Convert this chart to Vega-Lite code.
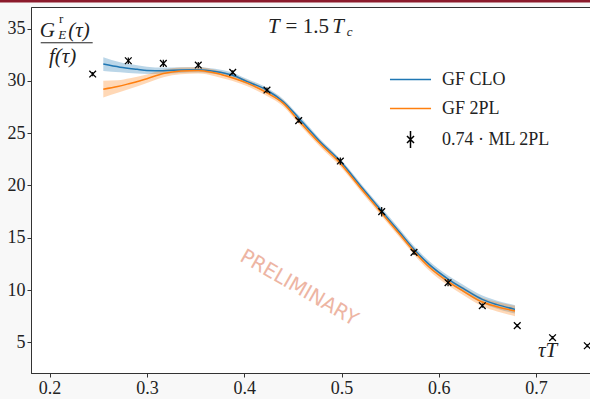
{
  "$schema": "https://vega.github.io/schema/vega-lite/v6.json",
  "width": 560,
  "height": 366,
  "autosize": {"type": "none"},
  "padding": {"left": 31, "top": 7, "right": 0, "bottom": 26},
  "background": "#f8f8f8",
  "view": {"fill": "white", "stroke": "#333", "strokeWidth": 1},
  "config": {
    "axis": {
      "grid": false,
      "labelFont": "Liberation Serif",
      "labelFontSize": 18,
      "labelColor": "#222",
      "tickColor": "#333",
      "domainColor": "#333",
      "tickSize": 4,
      "title": null
    },
    "legend": {
      "labelFont": "Liberation Serif",
      "labelFontSize": 18,
      "labelColor": "#222"
    }
  },
  "datasets": {
    "curves": [
      {"series": "GF CLO", "x": 0.2552, "y": 31.6, "lo": 30.95, "hi": 32.25},
      {"series": "GF CLO", "x": 0.2724, "y": 31.3, "lo": 30.82, "hi": 31.78},
      {"series": "GF CLO", "x": 0.29, "y": 31.1, "lo": 30.7, "hi": 31.5},
      {"series": "GF CLO", "x": 0.30, "y": 31.0, "lo": 30.65, "hi": 31.35},
      {"series": "GF CLO", "x": 0.3169, "y": 30.97, "lo": 30.67, "hi": 31.27},
      {"series": "GF CLO", "x": 0.334, "y": 31.03, "lo": 30.76, "hi": 31.3},
      {"series": "GF CLO", "x": 0.3528, "y": 31.05, "lo": 30.8, "hi": 31.3},
      {"series": "GF CLO", "x": 0.37, "y": 30.9, "lo": 30.65, "hi": 31.15},
      {"series": "GF CLO", "x": 0.3875, "y": 30.55, "lo": 30.3, "hi": 30.8},
      {"series": "GF CLO", "x": 0.4026, "y": 29.95, "lo": 29.7, "hi": 30.2},
      {"series": "GF CLO", "x": 0.4234, "y": 29.1, "lo": 28.85, "hi": 29.35},
      {"series": "GF CLO", "x": 0.4402, "y": 28.0, "lo": 27.75, "hi": 28.25},
      {"series": "GF CLO", "x": 0.456, "y": 26.45, "lo": 26.2, "hi": 26.7},
      {"series": "GF CLO", "x": 0.4779, "y": 24.2, "lo": 23.95, "hi": 24.45},
      {"series": "GF CLO", "x": 0.4988, "y": 22.3, "lo": 22.05, "hi": 22.55},
      {"series": "GF CLO", "x": 0.52, "y": 19.9, "lo": 19.63, "hi": 20.17},
      {"series": "GF CLO", "x": 0.5413, "y": 17.55, "lo": 17.27, "hi": 17.83},
      {"series": "GF CLO", "x": 0.56, "y": 15.5, "lo": 15.2, "hi": 15.8},
      {"series": "GF CLO", "x": 0.5745, "y": 13.9, "lo": 13.6, "hi": 14.2},
      {"series": "GF CLO", "x": 0.59, "y": 12.45, "lo": 12.13, "hi": 12.77},
      {"series": "GF CLO", "x": 0.6095, "y": 11.05, "lo": 10.72, "hi": 11.38},
      {"series": "GF CLO", "x": 0.625, "y": 10.15, "lo": 9.8, "hi": 10.5},
      {"series": "GF CLO", "x": 0.6447, "y": 9.1, "lo": 8.73, "hi": 9.47},
      {"series": "GF CLO", "x": 0.66, "y": 8.6, "lo": 8.22, "hi": 8.98},
      {"series": "GF CLO", "x": 0.6783, "y": 8.15, "lo": 7.75, "hi": 8.55},
      {"series": "GF 2PL", "x": 0.2552, "y": 29.2, "lo": 28.4, "hi": 30.0},
      {"series": "GF 2PL", "x": 0.27, "y": 29.45, "lo": 28.85, "hi": 30.05},
      {"series": "GF 2PL", "x": 0.2826, "y": 29.75, "lo": 29.25, "hi": 30.25},
      {"series": "GF 2PL", "x": 0.30, "y": 30.2, "lo": 29.8, "hi": 30.6},
      {"series": "GF 2PL", "x": 0.3169, "y": 30.7, "lo": 30.35, "hi": 31.05},
      {"series": "GF 2PL", "x": 0.335, "y": 30.95, "lo": 30.63, "hi": 31.27},
      {"series": "GF 2PL", "x": 0.3528, "y": 31.0, "lo": 30.7, "hi": 31.3},
      {"series": "GF 2PL", "x": 0.37, "y": 30.75, "lo": 30.45, "hi": 31.05},
      {"series": "GF 2PL", "x": 0.3875, "y": 30.3, "lo": 30.0, "hi": 30.6},
      {"series": "GF 2PL", "x": 0.4026, "y": 29.8, "lo": 29.5, "hi": 30.1},
      {"series": "GF 2PL", "x": 0.4234, "y": 28.85, "lo": 28.55, "hi": 29.15},
      {"series": "GF 2PL", "x": 0.4402, "y": 27.85, "lo": 27.55, "hi": 28.15},
      {"series": "GF 2PL", "x": 0.456, "y": 26.2, "lo": 25.9, "hi": 26.5},
      {"series": "GF 2PL", "x": 0.4779, "y": 24.0, "lo": 23.7, "hi": 24.3},
      {"series": "GF 2PL", "x": 0.4988, "y": 22.1, "lo": 21.8, "hi": 22.4},
      {"series": "GF 2PL", "x": 0.52, "y": 19.7, "lo": 19.4, "hi": 20.0},
      {"series": "GF 2PL", "x": 0.5413, "y": 17.35, "lo": 17.05, "hi": 17.65},
      {"series": "GF 2PL", "x": 0.56, "y": 15.3, "lo": 15.0, "hi": 15.6},
      {"series": "GF 2PL", "x": 0.5745, "y": 13.7, "lo": 13.38, "hi": 14.02},
      {"series": "GF 2PL", "x": 0.59, "y": 12.2, "lo": 11.87, "hi": 12.53},
      {"series": "GF 2PL", "x": 0.6095, "y": 10.8, "lo": 10.45, "hi": 11.15},
      {"series": "GF 2PL", "x": 0.625, "y": 9.9, "lo": 9.52, "hi": 10.28},
      {"series": "GF 2PL", "x": 0.6447, "y": 8.85, "lo": 8.45, "hi": 9.25},
      {"series": "GF 2PL", "x": 0.66, "y": 8.4, "lo": 7.95, "hi": 8.85},
      {"series": "GF 2PL", "x": 0.6783, "y": 8.0, "lo": 7.5, "hi": 8.5}
    ],
    "points": [
      {"x": 0.2443, "y": 30.65, "err": 0.2},
      {"x": 0.2809, "y": 31.92, "err": 0.3},
      {"x": 0.3169, "y": 31.67, "err": 0.35},
      {"x": 0.3528, "y": 31.51, "err": 0.3},
      {"x": 0.3882, "y": 30.81, "err": 0.2},
      {"x": 0.4234, "y": 29.12, "err": 0.25},
      {"x": 0.456, "y": 26.19, "err": 0.2},
      {"x": 0.4988, "y": 22.33, "err": 0.35},
      {"x": 0.5413, "y": 17.49, "err": 0.45},
      {"x": 0.5745, "y": 13.6, "err": 0.25},
      {"x": 0.6095, "y": 10.7, "err": 0.35},
      {"x": 0.6447, "y": 8.5, "err": 0.2},
      {"x": 0.6806, "y": 6.59, "err": 0.15},
      {"x": 0.7169, "y": 5.44, "err": 0.15},
      {"x": 0.7526, "y": 4.67, "err": 0.15}
    ],
    "bigItalic": [
      {"text": "T", "x": 0.4245, "y": 34.57},
      {"text": "T", "x": 0.4905, "y": 34.57},
      {"text": "G", "x": 0.1899, "y": 34.19},
      {"text": "(τ)", "x": 0.2192, "y": 34.19},
      {"text": "f(τ)", "x": 0.1994, "y": 31.7},
      {"text": "τT", "x": 0.702, "y": 3.59}
    ],
    "bigRoman": [
      {"text": "= 1.5", "x": 0.4425, "y": 34.57}
    ],
    "smallItalic": [
      {"text": "c", "x": 0.5055, "y": 34.28},
      {"text": "E", "x": 0.2088, "y": 34.0}
    ],
    "smallRoman": [
      {"text": "r", "x": 0.2098, "y": 35.55}
    ],
    "fracLine": [
      {"x": 0.1909, "x2": 0.2443, "y": 33.64}
    ],
    "topBar": [
      {"x": 0.14, "x2": 0.77, "y": 37.63}
    ],
    "watermark": [
      {"text": "PRELIMINARY", "x": 0.4563, "y": 10.19}
    ]
  },
  "encoding": {
    "x": {"field": "x", "type": "quantitative", "scale": {"domain": [0.1809, 0.7564], "nice": false, "zero": false}, "axis": {"values": [0.2, 0.3, 0.4, 0.5, 0.6, 0.7], "format": ".1f", "labelFont": "Liberation Serif", "labelFontSize": 18}},
    "y": {"field": "y", "type": "quantitative", "scale": {"domain": [2.065, 37.06], "nice": false, "zero": false}, "axis": {"values": [5, 10, 15, 20, 25, 30, 35], "format": "d", "labelPadding": 2, "labelFont": "Liberation Serif", "labelFontSize": 18}}
  },
  "layer": [
    {
      "data": {"name": "watermark"},
      "mark": {"type": "text", "angle": 30, "font": "DejaVu Sans", "fontSize": 20, "color": "#eba993", "opacity": 0.85, "align": "center", "baseline": "middle"},
      "encoding": {"text": {"field": "text"}}
    },
    {
      "data": {"name": "curves"},
      "mark": {"type": "area", "opacity": 0.3, "interpolate": "monotone"},
      "encoding": {
        "y": {"field": "lo", "type": "quantitative"},
        "y2": {"field": "hi"},
        "fill": {"field": "series", "type": "nominal", "scale": {"domain": ["GF CLO", "GF 2PL"], "range": ["#1f77b4", "#ff7f0e"]}, "legend": null}
      }
    },
    {
      "data": {"name": "curves"},
      "mark": {"type": "line", "strokeWidth": 1.5, "interpolate": "monotone"},
      "encoding": {
        "color": {
          "field": "series", "type": "nominal",
          "scale": {"domain": ["GF CLO", "GF 2PL", "0.74 · ML 2PL"], "range": ["#1f77b4", "#ff7f0e", "black"]},
          "legend": {
            "title": null,
            "orient": "none",
            "legendX": 369,
            "legendY": 62,
            "symbolType": "stroke",
            "symbolSize": 361,
            "symbolStrokeWidth": 1.5,
            "labelOffset": 21,
            "rowPadding": 9,
            "padding": 0,
            "encode": {
              "symbols": {
                "update": {
                  "shape": {"signal": "datum.value === '0.74 · ML 2PL' ? 'M-0.37,-0.37L0.37,0.37M-0.37,0.37L0.37,-0.37M0,-0.9L0,0.9' : 'M-2.16,0L2.16,0'"}
                }
              }
            }
          }
        }
      }
    },
    {
      "data": {"name": "points"},
      "transform": [
        {"calculate": "datum.y - datum.err", "as": "ylo"},
        {"calculate": "datum.y + datum.err", "as": "yhi"}
      ],
      "mark": {"type": "rule", "color": "black", "strokeWidth": 1.2},
      "encoding": {
        "y": {"field": "ylo", "type": "quantitative"},
        "y2": {"field": "yhi"}
      }
    },
    {
      "data": {"name": "points"},
      "mark": {"type": "point", "shape": "M-1,-1L1,1M-1,1L1,-1", "size": 45, "filled": false, "color": "black", "strokeWidth": 1.3, "opacity": 1}
    },
    {
      "data": {"name": "fracLine"},
      "mark": {"type": "rule", "color": "#222", "strokeWidth": 1},
      "encoding": {"x2": {"field": "x2"}}
    },
    {
      "data": {"name": "topBar"},
      "mark": {"type": "rule", "color": "#8b1a2b", "strokeWidth": 3, "clip": false},
      "encoding": {"x2": {"field": "x2"}}
    },
    {
      "data": {"name": "bigItalic"},
      "mark": {"type": "text", "font": "Liberation Serif", "fontStyle": "italic", "fontSize": 21, "color": "#222", "align": "left", "baseline": "alphabetic"},
      "encoding": {"text": {"field": "text"}}
    },
    {
      "data": {"name": "bigRoman"},
      "mark": {"type": "text", "font": "Liberation Serif", "fontSize": 21, "color": "#222", "align": "left", "baseline": "alphabetic"},
      "encoding": {"text": {"field": "text"}}
    },
    {
      "data": {"name": "smallItalic"},
      "mark": {"type": "text", "font": "Liberation Serif", "fontStyle": "italic", "fontSize": 13, "color": "#222", "align": "left", "baseline": "alphabetic"},
      "encoding": {"text": {"field": "text"}}
    },
    {
      "data": {"name": "smallRoman"},
      "mark": {"type": "text", "font": "Liberation Serif", "fontSize": 13, "color": "#222", "align": "left", "baseline": "alphabetic"},
      "encoding": {"text": {"field": "text"}}
    }
  ]
}
